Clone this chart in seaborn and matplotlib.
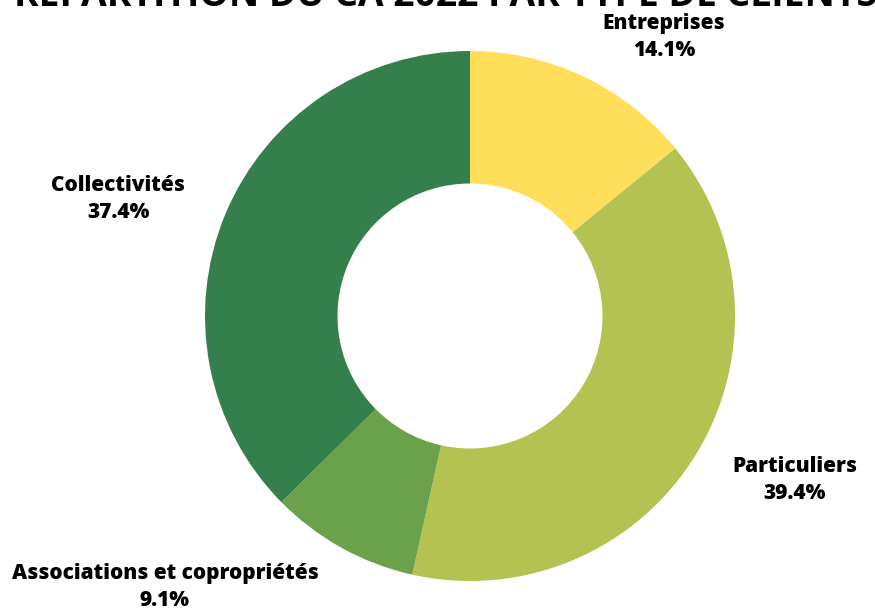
import matplotlib
matplotlib.use("Agg")
import matplotlib.pyplot as plt
import seaborn as sns

# Données : répartition du CA 2022 par type de client
categories = ["Entreprises", "Particuliers", "Associations et copropriétés", "Collectivités"]
parts = [14.1, 39.4, 9.1, 37.4]
couleurs = ["#FFDE59", "#B3C251", "#6BA14A", "#347F4B"]
titre = "RÉPARTITION DU CA 2022 PAR TYPE DE CLIENTS"

# positions des étiquettes (unités du rayon)
label_xy = [(0.732, 1.053), (1.226, -0.619), (-1.151, -1.023), (-1.328, 0.442)]

sns.set_theme(style="white")
plt.rcParams['font.family'] = ['Open Sans', 'DejaVu Sans']

fig = plt.figure(figsize=(8.75, 6.08), dpi=100)
ax = fig.add_axes([0, 0, 1, 1])

wedges, _ = ax.pie(parts, colors=couleurs, startangle=90, counterclock=False,
                   radius=1.0, wedgeprops=dict(width=0.5, linewidth=0))

for cat, val, (x, y) in zip(categories, parts, label_xy):
    ax.text(x, y, f"{cat}\n{val:.1f}%", ha="center", va="center",
            fontsize=15, fontweight="heavy", color="black", linespacing=1.35)

ax.set_xlim(-470 / 265, 405 / 265)
ax.set_ylim(-292 / 265, 316 / 265)
ax.set_aspect("equal")
ax.axis("off")

fig.text(0.509, 1 - 6 / 608, titre, ha="center", va="baseline", fontsize=26.8,
         fontweight="bold", color="black")

fig.savefig("out.png", dpi=100)
